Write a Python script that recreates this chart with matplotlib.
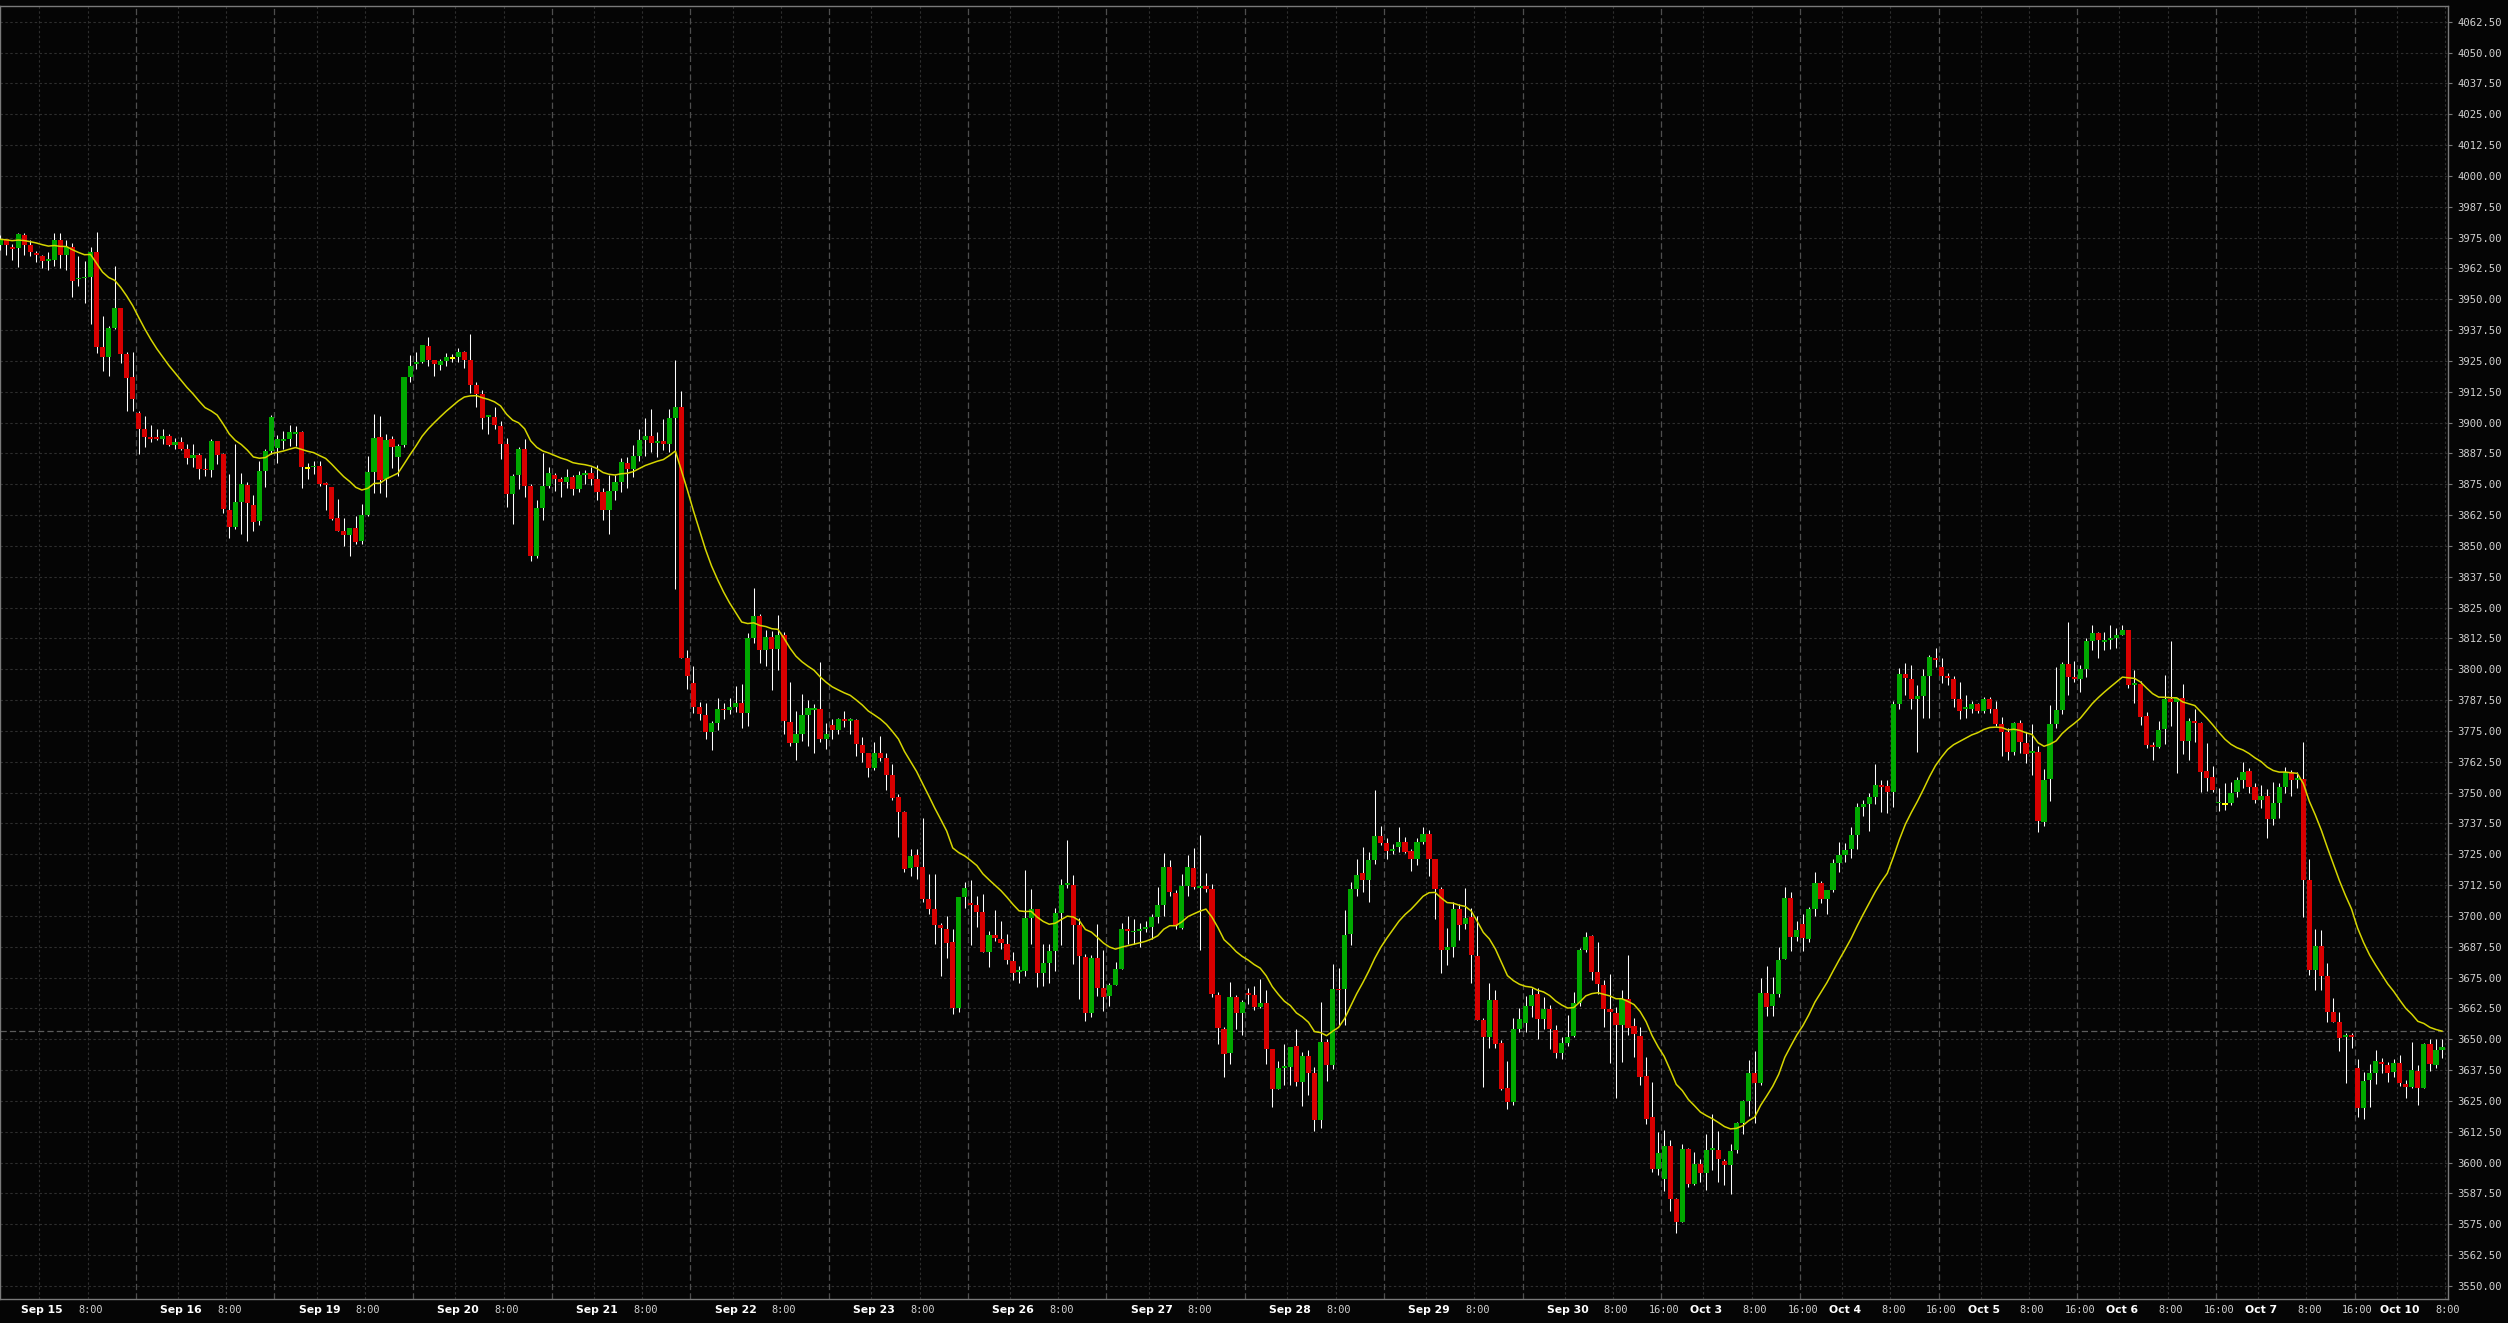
import numpy as np
import pandas as pd
import matplotlib
matplotlib.use("Agg")
import matplotlib.pyplot as plt

# hourly bars, 23 bars per trading session
session_days = ['Sep 15', 'Sep 16', 'Sep 19', 'Sep 20', 'Sep 21', 'Sep 22', 'Sep 23',
                'Sep 26', 'Sep 27', 'Sep 28', 'Sep 29', 'Sep 30', 'Oct 3', 'Oct 4',
                'Oct 5', 'Oct 6', 'Oct 7', 'Oct 10']
bars_per_session = 23
late_labels_from = 'Sep 30'   # sessions that also show a 16:00 label
late_labels_to = 'Oct 7'

opens = [
    3972.0, 3974.3, 3971.0, 3970.7, 3976.0, 3972.0, 3968.7, 3967.5, 3965.3, 3966.0,
    3974.0, 3968.0, 3971.0, 3958.0, 3958.5, 3959.0, 3969.2, 3930.8, 3926.6, 3938.4,
    3946.6, 3927.6, 3918.5, 3904.0, 3897.3, 3894.3, 3894.0, 3893.5, 3894.6, 3891.0,
    3892.0, 3889.2, 3885.8, 3887.0, 3881.2, 3880.6, 3892.4, 3887.4, 3864.6, 3857.8,
    3867.9, 3874.6, 3866.5, 3860.0, 3880.4, 3888.4, 3889.5, 3892.6, 3893.5, 3895.3,
    3896.2, 3881.4, 3881.8, 3882.5, 3875.3, 3873.9, 3861.4, 3856.1, 3854.4, 3857.2,
    3851.8, 3862.7, 3880.0, 3894.2, 3877.0, 3893.5, 3886.2, 3891.0, 3918.5, 3923.7,
    3924.6, 3931.0, 3925.5, 3923.5, 3925.0, 3926.2, 3926.4, 3928.6, 3925.3, 3915.2,
    3911.7, 3902.2, 3902.2, 3898.7, 3891.2, 3871.2, 3878.8, 3889.4, 3874.2, 3845.9,
    3865.5, 3874.2, 3878.8, 3877.0, 3875.9, 3877.9, 3872.9, 3878.8, 3879.6, 3877.0,
    3871.8, 3864.4, 3872.3, 3876.0, 3883.8, 3881.2, 3886.5, 3893.0, 3894.5, 3891.7,
    3892.6, 3891.3, 3901.9, 3906.2, 3804.4, 3794.3, 3784.6, 3781.5, 3774.5, 3778.2,
    3784.0, 3783.3, 3784.6, 3786.5, 3782.4, 3812.7, 3821.6, 3807.7, 3813.0, 3808.1,
    3813.8, 3778.7, 3770.2, 3773.9, 3781.3, 3783.5, 3783.8, 3771.6, 3777.4, 3775.5,
    3779.7, 3779.0, 3779.5, 3769.3, 3766.2, 3759.9, 3766.2, 3763.9, 3757.2, 3748.0,
    3742.3, 3719.3, 3724.7, 3719.9, 3706.8, 3703.0, 3696.2, 3694.6, 3689.6, 3662.6,
    3707.5, 3705.4, 3704.3, 3701.4, 3685.2, 3692.2, 3690.8, 3688.8, 3681.8, 3677.2,
    3677.5, 3699.1, 3703.0, 3677.0, 3681.1, 3685.8, 3701.0, 3712.6, 3712.6, 3696.4,
    3683.4, 3660.8, 3683.1, 3670.6, 3667.7, 3672.1, 3678.6, 3694.6, 3693.3, 3693.9,
    3694.6, 3695.7, 3699.6, 3704.3, 3719.9, 3709.1, 3695.0, 3712.2, 3719.6, 3711.2,
    3712.2, 3710.8, 3668.0, 3654.3, 3644.6, 3667.2, 3660.8, 3668.5, 3667.9, 3662.9,
    3664.8, 3646.2, 3630.0, 3638.3, 3638.7, 3647.3, 3632.5, 3643.3, 3636.4, 3617.2,
    3649.0, 3639.5, 3670.3, 3670.3, 3692.8, 3711.1, 3717.2, 3714.7, 3722.6, 3732.4,
    3729.7, 3726.4, 3727.9, 3730.0, 3726.2, 3723.0, 3730.0, 3733.4, 3723.0, 3710.8,
    3686.1, 3687.4, 3703.0, 3696.9, 3699.6, 3683.8, 3657.7, 3651.0, 3665.8, 3648.3,
    3630.3, 3624.4, 3654.1, 3656.4, 3663.4, 3668.5, 3658.4, 3662.2, 3653.7, 3644.6,
    3648.3, 3651.4, 3664.8, 3686.1, 3691.9, 3677.3, 3671.9, 3662.2, 3660.8, 3655.7,
    3666.5, 3655.3, 3651.5, 3634.9, 3618.3, 3597.3, 3593.3, 3606.9, 3585.2, 3576.1,
    3605.6, 3591.3, 3599.4, 3595.7, 3605.1, 3605.1, 3600.8, 3598.9, 3605.3, 3616.1,
    3624.8, 3636.2, 3632.2, 3668.9, 3663.5, 3668.3, 3682.7, 3707.4, 3691.3, 3696.6,
    3690.5, 3702.6, 3713.5, 3706.7, 3710.6, 3721.5, 3724.7, 3727.1, 3733.0, 3744.2,
    3745.5, 3748.4, 3753.2, 3752.7, 3750.3, 3786.0, 3798.1, 3796.0, 3788.0, 3789.1,
    3797.1, 3804.5, 3801.0, 3797.1, 3796.0, 3788.0, 3783.7, 3784.0, 3786.0, 3782.9,
    3788.0, 3784.0, 3777.6, 3774.7, 3766.3, 3778.4, 3770.0, 3766.0, 3766.6, 3738.2,
    3755.5, 3777.8, 3783.5, 3802.0, 3797.0, 3795.9, 3799.9, 3811.4, 3814.5, 3811.2,
    3811.8, 3812.5, 3814.0, 3815.9, 3793.6, 3793.9, 3781.2, 3769.2, 3768.6, 3775.7,
    3787.9, 3786.6, 3788.2, 3770.9, 3779.0, 3778.3, 3758.7, 3756.3, 3745.6, 3745.4,
    3745.6, 3750.3, 3754.9, 3758.7, 3752.4, 3747.0, 3748.7, 3739.3, 3745.6, 3752.1,
    3758.2, 3755.1, 3755.5, 3714.5, 3678.1, 3687.6, 3675.8, 3660.9, 3656.9, 3650.9,
    3651.6, 3638.2, 3622.0, 3633.5, 3636.2, 3640.9, 3639.6, 3636.6, 3640.3, 3631.7,
    3630.8, 3637.3, 3630.4, 3648.0, 3639.4, 3645.7,
]

highs = [
    3976.0, 3974.5, 3972.5, 3977.0, 3977.0, 3974.0, 3969.6, 3967.8, 3969.0, 3976.8,
    3977.0, 3974.0, 3972.7, 3967.6, 3965.6, 3971.0, 3977.3, 3943.0, 3939.0, 3963.5,
    3946.6, 3928.4, 3928.4, 3904.7, 3902.7, 3899.0, 3897.4, 3897.2, 3895.3, 3893.9,
    3894.3, 3891.2, 3891.2, 3887.6, 3885.8, 3893.5, 3892.4, 3887.5, 3879.0, 3891.2,
    3879.5, 3875.7, 3870.6, 3884.5, 3889.2, 3903.0, 3895.1, 3896.6, 3898.9, 3898.4,
    3896.6, 3883.8, 3884.5, 3884.5, 3875.7, 3873.9, 3868.9, 3861.5, 3857.2, 3862.2,
    3866.9, 3886.5, 3903.4, 3902.6, 3895.3, 3894.6, 3891.3, 3918.5, 3927.2, 3928.6,
    3931.4, 3934.5, 3925.5, 3925.9, 3928.3, 3927.7, 3930.1, 3929.0, 3936.0, 3916.6,
    3913.0, 3903.2, 3906.5, 3900.6, 3893.9, 3879.2, 3890.2, 3893.2, 3875.1, 3868.6,
    3887.6, 3882.1, 3879.7, 3877.9, 3881.0, 3878.8, 3880.3, 3880.6, 3882.1, 3882.9,
    3873.6, 3878.8, 3878.8, 3885.6, 3886.2, 3890.8, 3897.3, 3901.9, 3905.4, 3896.3,
    3901.3, 3905.6, 3925.3, 3912.7, 3807.7, 3801.3, 3786.9, 3786.5, 3779.1, 3788.3,
    3786.5, 3788.3, 3793.0, 3793.9, 3814.5, 3833.0, 3822.5, 3816.0, 3815.6, 3821.9,
    3815.0, 3795.0, 3783.2, 3789.8, 3787.4, 3786.1, 3803.0, 3778.4, 3779.7, 3780.1,
    3783.1, 3780.4, 3779.7, 3772.6, 3766.2, 3770.7, 3773.0, 3766.2, 3761.7, 3749.3,
    3742.6, 3727.0, 3727.0, 3739.6, 3716.9, 3716.9, 3697.3, 3700.0, 3694.6, 3707.7,
    3713.9, 3714.7, 3708.1, 3709.0, 3694.0, 3702.3, 3698.0, 3692.6, 3685.2, 3679.8,
    3718.5, 3710.8, 3703.0, 3688.8, 3688.5, 3703.1, 3714.9, 3730.7, 3716.6, 3699.3,
    3684.5, 3684.2, 3696.9, 3686.1, 3672.9, 3681.3, 3697.3, 3700.0, 3698.7, 3697.3,
    3698.0, 3700.7, 3711.8, 3725.3, 3722.6, 3710.4, 3716.9, 3724.7, 3727.7, 3732.9,
    3717.2, 3713.1, 3669.0, 3655.0, 3673.3, 3667.9, 3665.8, 3670.8, 3671.6, 3674.3,
    3669.9, 3646.2, 3641.1, 3647.9, 3646.8, 3654.1, 3644.9, 3645.6, 3638.8, 3665.2,
    3650.0, 3680.7, 3679.0, 3702.3, 3713.8, 3723.0, 3728.0, 3726.0, 3751.0, 3736.5,
    3731.6, 3729.3, 3736.1, 3732.0, 3727.0, 3731.6, 3736.1, 3734.7, 3723.2, 3711.8,
    3694.9, 3705.7, 3705.0, 3711.4, 3703.3, 3700.0, 3658.7, 3672.6, 3669.9, 3649.6,
    3641.1, 3658.7, 3662.5, 3667.6, 3670.8, 3670.6, 3667.2, 3663.8, 3655.7, 3651.0,
    3660.0, 3669.0, 3687.0, 3693.5, 3692.2, 3689.5, 3674.0, 3676.6, 3663.1, 3669.9,
    3684.3, 3658.6, 3655.0, 3642.6, 3632.5, 3612.5, 3613.3, 3609.3, 3585.5, 3607.4,
    3606.1, 3604.3, 3601.3, 3611.7, 3619.7, 3612.8, 3601.3, 3607.7, 3616.5, 3625.4,
    3641.7, 3645.4, 3675.0, 3679.8, 3675.3, 3687.5, 3711.9, 3709.5, 3697.9, 3700.6,
    3703.8, 3718.0, 3714.3, 3710.6, 3723.1, 3729.8, 3729.5, 3735.9, 3745.8, 3747.1,
    3750.0, 3761.5, 3755.1, 3755.1, 3787.2, 3800.3, 3802.4, 3801.9, 3793.6, 3800.0,
    3805.8, 3808.8, 3804.5, 3798.4, 3797.1, 3794.7, 3789.6, 3787.2, 3786.4, 3788.8,
    3788.8, 3787.2, 3780.8, 3776.0, 3778.8, 3779.5, 3774.4, 3777.6, 3768.8, 3759.5,
    3785.5, 3801.0, 3803.0, 3819.0, 3803.3, 3801.7, 3812.5, 3818.0, 3815.2, 3814.9,
    3818.0, 3816.6, 3818.0, 3815.9, 3799.7, 3795.2, 3782.5, 3770.6, 3779.0, 3797.6,
    3811.4, 3788.5, 3793.9, 3780.1, 3783.9, 3778.7, 3769.9, 3760.9, 3751.7, 3753.7,
    3754.4, 3756.4, 3762.2, 3760.1, 3753.7, 3753.0, 3751.4, 3754.4, 3753.7, 3760.5,
    3759.1, 3758.5, 3770.6, 3723.1, 3694.7, 3694.4, 3680.8, 3666.6, 3661.2, 3652.4,
    3652.4, 3642.0, 3636.9, 3639.9, 3645.6, 3642.5, 3640.9, 3642.0, 3643.7, 3633.5,
    3649.0, 3639.4, 3648.4, 3650.2, 3650.2, 3649.9,
]

lows = [
    3970.0, 3968.0, 3966.0, 3963.0, 3968.0, 3967.6, 3965.0, 3962.5, 3962.0, 3963.5,
    3962.8, 3962.0, 3951.0, 3955.4, 3948.4, 3940.0, 3928.0, 3920.7, 3919.0, 3938.0,
    3924.3, 3904.5, 3904.8, 3887.2, 3889.9, 3892.2, 3893.0, 3891.2, 3890.5, 3889.2,
    3889.0, 3883.0, 3881.8, 3877.0, 3878.4, 3878.0, 3883.0, 3863.5, 3853.0, 3857.0,
    3854.7, 3852.0, 3856.0, 3858.4, 3873.7, 3887.2, 3883.8, 3889.2, 3890.5, 3890.5,
    3873.3, 3877.3, 3879.0, 3874.3, 3864.6, 3860.6, 3856.1, 3850.0, 3846.0, 3850.7,
    3850.7, 3862.2, 3871.6, 3871.6, 3870.0, 3881.4, 3878.4, 3890.0, 3916.6, 3921.6,
    3924.0, 3923.1, 3919.0, 3921.3, 3923.1, 3924.6, 3924.6, 3922.2, 3912.0, 3906.1,
    3897.3, 3895.4, 3897.3, 3885.3, 3865.9, 3858.9, 3872.9, 3869.9, 3843.7, 3845.2,
    3860.4, 3873.3, 3872.3, 3869.9, 3873.3, 3870.5, 3871.8, 3875.1, 3874.7, 3868.6,
    3860.3, 3854.8, 3868.6, 3871.8, 3873.6, 3877.9, 3884.3, 3886.5, 3888.0, 3886.2,
    3889.0, 3888.0, 3832.6, 3804.6, 3792.0, 3782.4, 3779.5, 3771.7, 3767.1, 3775.4,
    3780.0, 3781.9, 3782.7, 3776.3, 3777.0, 3810.5, 3802.7, 3801.3, 3791.6, 3799.8,
    3773.6, 3769.0, 3763.4, 3770.8, 3769.0, 3766.2, 3770.3, 3767.6, 3771.6, 3773.6,
    3776.6, 3773.6, 3764.9, 3762.2, 3756.4, 3759.1, 3762.6, 3751.0, 3746.8, 3731.8,
    3717.6, 3716.3, 3714.9, 3705.5, 3700.7, 3688.8, 3675.7, 3682.9, 3660.2, 3661.2,
    3703.4, 3688.3, 3695.3, 3685.2, 3679.1, 3689.9, 3686.5, 3680.4, 3674.0, 3672.6,
    3675.7, 3688.5, 3671.2, 3671.6, 3672.8, 3677.5, 3688.3, 3711.5, 3680.7, 3666.2,
    3657.5, 3659.1, 3667.6, 3661.5, 3663.5, 3671.8, 3678.4, 3688.8, 3688.5, 3687.2,
    3693.3, 3690.6, 3697.3, 3700.0, 3708.1, 3694.6, 3694.6, 3708.1, 3710.8, 3686.1,
    3709.5, 3667.2, 3648.0, 3634.8, 3639.8, 3654.3, 3651.9, 3664.1, 3661.8, 3662.5,
    3639.8, 3622.6, 3630.0, 3631.4, 3631.4, 3631.1, 3623.0, 3627.5, 3612.7, 3614.0,
    3632.9, 3638.1, 3655.7, 3655.7, 3688.1, 3708.1, 3709.5, 3705.7, 3721.2, 3728.6,
    3723.0, 3724.9, 3726.0, 3725.7, 3718.1, 3720.8, 3729.3, 3716.2, 3698.7, 3677.0,
    3680.3, 3683.4, 3690.1, 3694.6, 3673.0, 3657.7, 3630.7, 3646.4, 3646.4, 3629.4,
    3621.7, 3623.5, 3653.0, 3653.0, 3659.1, 3650.3, 3654.3, 3646.2, 3642.5, 3641.8,
    3647.3, 3651.0, 3663.5, 3685.4, 3673.9, 3668.5, 3655.0, 3640.2, 3626.0, 3640.7,
    3651.6, 3642.9, 3631.4, 3615.7, 3596.2, 3594.9, 3588.5, 3580.4, 3571.6, 3576.1,
    3590.1, 3590.9, 3592.0, 3588.8, 3597.0, 3592.0, 3590.9, 3587.2, 3603.7, 3611.7,
    3618.9, 3616.1, 3631.4, 3659.3, 3659.3, 3667.0, 3682.7, 3685.9, 3689.7, 3685.9,
    3689.4, 3699.8, 3705.4, 3700.6, 3709.5, 3717.9, 3721.8, 3723.4, 3727.1, 3740.4,
    3734.6, 3745.5, 3742.0, 3741.9, 3744.2, 3784.0, 3789.6, 3784.0, 3766.3, 3780.4,
    3780.4, 3800.8, 3794.4, 3793.6, 3784.8, 3780.0, 3780.4, 3782.4, 3782.1, 3782.4,
    3782.1, 3776.8, 3764.7, 3763.0, 3765.1, 3766.0, 3761.9, 3757.0, 3733.9, 3736.6,
    3746.6, 3776.3, 3781.7, 3789.5, 3794.7, 3790.9, 3797.0, 3807.8, 3804.7, 3807.8,
    3808.2, 3808.7, 3814.0, 3792.5, 3786.2, 3777.4, 3768.2, 3763.2, 3767.9, 3769.5,
    3777.1, 3757.8, 3765.5, 3763.2, 3770.6, 3750.3, 3750.6, 3750.4, 3742.5, 3743.0,
    3744.9, 3748.3, 3751.7, 3749.7, 3745.6, 3743.6, 3731.7, 3736.8, 3739.8, 3749.7,
    3748.7, 3752.0, 3699.7, 3676.0, 3670.0, 3670.0, 3656.9, 3656.9, 3645.3, 3632.1,
    3646.3, 3618.6, 3617.7, 3622.5, 3631.8, 3636.2, 3632.6, 3634.6, 3631.2, 3626.1,
    3630.1, 3623.4, 3630.4, 3637.2, 3638.5, 3642.5,
]

closes = [
    3974.3, 3971.9, 3970.3, 3976.4, 3972.0, 3969.0, 3967.8, 3965.5, 3966.1, 3974.0,
    3968.0, 3971.0, 3957.4, 3958.7, 3959.2, 3969.2, 3930.8, 3926.6, 3938.4, 3946.6,
    3927.6, 3918.1, 3909.7, 3897.3, 3894.0, 3893.5, 3893.5, 3894.6, 3890.8, 3892.0,
    3889.2, 3885.8, 3887.0, 3881.0, 3880.6, 3892.4, 3886.9, 3864.9, 3857.5, 3867.9,
    3875.0, 3867.3, 3859.8, 3880.4, 3888.4, 3902.3, 3893.3, 3893.5, 3896.2, 3896.2,
    3881.8, 3881.4, 3882.5, 3875.0, 3874.6, 3861.0, 3856.1, 3854.4, 3857.2, 3851.4,
    3862.5, 3880.0, 3893.8, 3876.8, 3892.8, 3889.9, 3890.6, 3918.5, 3923.1, 3924.6,
    3931.4, 3925.5, 3923.7, 3925.0, 3926.4, 3926.2, 3928.6, 3925.5, 3915.3, 3911.7,
    3901.9, 3902.9, 3899.1, 3891.3, 3871.2, 3878.4, 3889.4, 3874.4, 3845.9, 3865.5,
    3874.2, 3879.7, 3877.0, 3876.0, 3877.9, 3872.9, 3878.8, 3879.6, 3877.0, 3871.8,
    3864.4, 3872.3, 3876.0, 3884.0, 3881.2, 3886.5, 3893.0, 3894.5, 3891.7, 3892.6,
    3891.3, 3901.9, 3906.2, 3804.6, 3797.2, 3784.6, 3781.9, 3774.5, 3778.2, 3784.0,
    3783.3, 3784.6, 3786.5, 3782.4, 3812.7, 3821.6, 3807.7, 3813.0, 3808.1, 3813.8,
    3779.0, 3770.2, 3773.9, 3781.3, 3784.1, 3784.1, 3771.6, 3773.9, 3775.5, 3779.7,
    3779.0, 3779.7, 3769.6, 3766.2, 3759.9, 3766.2, 3763.9, 3757.2, 3747.7, 3742.3,
    3718.9, 3724.3, 3720.0, 3706.8, 3703.0, 3696.2, 3695.0, 3689.2, 3662.6, 3707.5,
    3711.5, 3704.5, 3701.4, 3685.2, 3692.2, 3691.0, 3689.2, 3682.1, 3677.0, 3677.5,
    3699.1, 3703.0, 3677.0, 3681.1, 3685.8, 3701.0, 3712.6, 3713.0, 3696.4, 3683.7,
    3660.8, 3683.1, 3670.9, 3667.3, 3672.1, 3678.6, 3694.7, 3693.7, 3693.9, 3694.6,
    3695.7, 3699.6, 3704.3, 3719.9, 3709.5, 3696.0, 3712.2, 3719.9, 3711.8, 3712.2,
    3710.8, 3668.3, 3654.5, 3644.2, 3667.2, 3660.8, 3665.2, 3667.9, 3662.9, 3664.8,
    3646.2, 3630.0, 3638.4, 3638.9, 3646.8, 3632.5, 3643.3, 3636.5, 3617.2, 3649.0,
    3639.5, 3670.3, 3669.8, 3692.2, 3711.1, 3716.5, 3714.7, 3722.6, 3732.4, 3729.7,
    3726.2, 3727.3, 3730.0, 3726.0, 3723.0, 3730.0, 3733.4, 3723.2, 3710.8, 3686.1,
    3687.4, 3703.0, 3696.5, 3699.2, 3684.1, 3657.7, 3651.0, 3665.8, 3647.9, 3630.0,
    3624.4, 3654.1, 3658.4, 3663.4, 3667.9, 3658.4, 3662.2, 3654.1, 3644.6, 3648.3,
    3650.9, 3664.8, 3686.1, 3691.5, 3677.3, 3672.2, 3662.2, 3661.1, 3655.7, 3666.5,
    3654.6, 3652.3, 3634.6, 3617.8, 3597.3, 3604.0, 3606.6, 3585.2, 3576.1, 3605.6,
    3591.3, 3599.4, 3595.7, 3605.1, 3605.9, 3601.6, 3598.9, 3604.8, 3616.1, 3624.8,
    3636.2, 3632.2, 3668.9, 3663.0, 3668.3, 3682.2, 3707.4, 3691.3, 3694.2, 3691.0,
    3702.6, 3713.5, 3706.7, 3710.6, 3721.5, 3724.7, 3726.9, 3733.0, 3744.2, 3745.5,
    3748.4, 3753.2, 3752.2, 3750.3, 3786.0, 3798.1, 3796.5, 3788.0, 3789.1, 3797.4,
    3805.1, 3803.7, 3797.1, 3796.5, 3788.0, 3783.2, 3784.5, 3786.0, 3782.9, 3788.0,
    3784.0, 3777.9, 3774.7, 3766.3, 3778.4, 3770.4, 3765.5, 3767.0, 3738.3, 3755.1,
    3777.8, 3783.5, 3802.0, 3797.0, 3795.9, 3799.9, 3811.4, 3814.5, 3811.8, 3811.8,
    3812.5, 3813.9, 3815.9, 3793.6, 3794.3, 3780.8, 3769.2, 3768.6, 3775.3, 3787.9,
    3786.6, 3788.2, 3770.9, 3779.0, 3778.3, 3758.5, 3756.0, 3751.0, 3745.9, 3745.4,
    3750.0, 3754.9, 3758.5, 3752.4, 3747.0, 3748.6, 3739.3, 3745.6, 3752.1, 3758.5,
    3755.1, 3755.8, 3714.5, 3678.1, 3687.6, 3675.8, 3660.9, 3657.1, 3650.6, 3651.6,
    3650.9, 3622.0, 3633.1, 3636.2, 3641.2, 3640.1, 3636.2, 3640.3, 3632.2, 3630.8,
    3637.6, 3630.1, 3648.0, 3639.9, 3645.7, 3647.0,
]

price_ticks = np.arange(3550.0, 4062.5 + 0.1, 12.5)

o = np.array(opens)
h = np.array(highs)
l = np.array(lows)
c = np.array(closes)
x = np.arange(len(c))

# 20 period exponential moving average of the closes
ema = pd.Series(c).ewm(span=20, adjust=False).mean()

BG = '#050505'
fig = plt.figure(figsize=(25.08, 13.23), dpi=100, facecolor=BG)
ax = fig.add_axes([0, 24 / 1323, 2448 / 2508, 1293 / 1323])
ax.set_facecolor(BG)

# grid
for p in price_ticks:
    ax.axhline(p, color='#2e2e2e', lw=0.8, dashes=(2.2, 2.2), zorder=1)
n_sess = len(session_days)
for s in range(n_sess):
    start = s * bars_per_session - 0.5
    ax.axvline(start, color='#4e4e4e', lw=0.9, dashes=(5, 2.5), zorder=1)
    ax.axvline(start + 7, color='#2e2e2e', lw=0.8, dashes=(2.2, 2.2), zorder=1)
    ax.axvline(start + 15, color='#2e2e2e', lw=0.8, dashes=(2.2, 2.2), zorder=1)

# candles
w = 0.86
lo = np.minimum(o, c)
body = np.maximum(np.abs(c - o), 0.7)
up = c > o
dn = c < o
dj = c == o
ax.vlines(x, l, h, color='white', lw=0.75, zorder=3)
ax.bar(x[up], body[up], w, bottom=lo[up], color='#00a800', lw=0, zorder=4)
ax.bar(x[dn], body[dn], w, bottom=lo[dn], color='#d80000', lw=0, zorder=4)
ax.bar(x[dj], 0.8, w, bottom=c[dj] - 0.4, color='#ffff00', lw=0, zorder=4)

ax.plot(x, ema, color='#d6d600', lw=1.1, zorder=5)
ax.axhline(ema.iloc[-1], color='#5c5c5c', lw=0.9, dashes=(5, 2.5), zorder=2)

ax.set_xlim(-0.017, 405.35)
ax.set_ylim(3544.7, 4068.86)

# price axis on the right
ax.yaxis.tick_right()
ax.set_yticks(price_ticks)
ax.set_yticklabels([f'{p:.2f}' for p in price_ticks])
ax.tick_params(axis='y', colors='#7a7a7a', length=3, width=0.8, pad=4,
               labelcolor='#d2d2d2', labelsize=7.6)
for t in ax.get_yticklabels():
    t.set_fontfamily('DejaVu Sans Mono')

# time axis
tick_pos, tick_txt, tick_bold = [], [], []
i_from = session_days.index(late_labels_from)
i_to = session_days.index(late_labels_to)
for s, day in enumerate(session_days):
    base = s * bars_per_session
    tick_pos += [base + 7, base + 15]
    tick_txt += [day, '8:00']
    tick_bold += [True, False]
    if i_from <= s <= i_to:
        tick_pos.append(base + 23)
        tick_txt.append('16:00')
        tick_bold.append(False)
ax.set_xticks(tick_pos)
ax.set_xticklabels(tick_txt)
ax.tick_params(axis='x', length=0, pad=4, labelcolor='#d2d2d2')
for t, b in zip(ax.get_xticklabels(), tick_bold):
    if b:
        t.set_fontfamily('DejaVu Sans')
        t.set_fontweight('bold')
        t.set_fontsize(7.8)
        t.set_color('white')
    else:
        t.set_fontfamily('DejaVu Sans Mono')
        t.set_fontsize(7.4)

for sp in ax.spines.values():
    sp.set_color('#7a7a7a')
    sp.set_linewidth(1.0)

fig.savefig('out.png', dpi=100, facecolor=BG)
